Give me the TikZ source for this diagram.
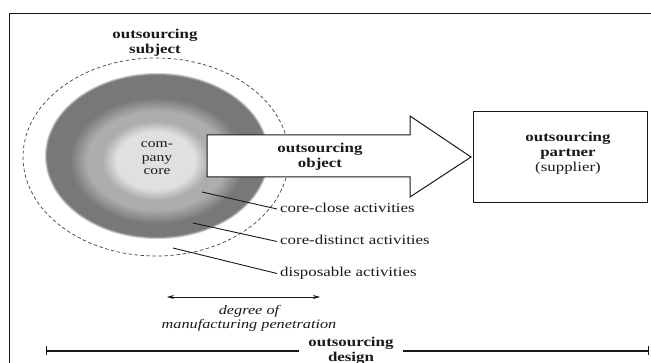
\documentclass[tikz,border=0pt]{standalone}
\usepackage{fontspec}
\setmainfont{Liberation Serif}[FakeStretch=1.25]
\usetikzlibrary{arrows.meta}
\definecolor{darkc}{gray}{0.47}
\definecolor{midc}{gray}{0.68}
\definecolor{lightc}{gray}{0.88}
\definecolor{inkc}{gray}{0.1}
\begin{document}
\begin{tikzpicture}[x=1pt,y=-1pt,
  bftext/.style={font=\fontsize{13.5}{15}\selectfont\bfseries, align=center, text=inkc},
  rmtext/.style={font=\fontsize{13.5}{15}\selectfont, text=inkc},
  ittext/.style={font=\fontsize{13}{14}\selectfont\itshape, align=center, text=inkc},
  labeltext/.style={rmtext, anchor=west, inner sep=3pt, text height=9pt, text depth=2.5pt},
  leader/.style={draw=inkc, line width=0.9pt},
  framelines/.style={draw=inkc, line width=1pt},
  dashring/.style={draw=black!75, line width=0.7pt, dash pattern=on 3.5pt off 2.5pt}]
\useasboundingbox (0,0) rectangle (651,363);
% frame
\draw[framelines] (9,363) -- (9,14) -- (651,14);
% shaded ellipses
\fill[darkc!40!white] (157,156) ellipse [x radius=112pt, y radius=83pt];
\fill[darkc!75!white] (157,156) ellipse [x radius=111pt, y radius=82pt];
\fill[darkc] (157,156) ellipse [x radius=110pt, y radius=81pt];
\foreach \i in {0,...,12} {
  \pgfmathsetmacro\rx{88-1.5*\i}
  \pgfmathsetmacro\ry{64-1.2*\i}
  \pgfmathtruncatemacro\c{100*\i/12}
  \fill[midc!\c!darkc] (157,161) ellipse [x radius=\rx pt, y radius=\ry pt];
}
\foreach \i in {0,...,12} {
  \pgfmathsetmacro\rx{54-1.2*\i}
  \pgfmathsetmacro\ry{40-0.9*\i}
  \pgfmathtruncatemacro\c{100*\i/12}
  \fill[lightc!\c!midc] (156,161) ellipse [x radius=\rx pt, y radius=\ry pt];
}
% dashed outer ring
\draw[dashring] (156,157) ellipse [x radius=133pt, y radius=99pt];
% labels and leaders
\node[labeltext] (cc) at (277,209) {core-close activities};
\node[labeltext] (cd) at (277,241.5) {core-distinct activities};
\node[labeltext] (da) at (277,273.5) {disposable activities};
\coordinate (p1) at (202,192);
\coordinate (p2) at (193,223);
\coordinate (p3) at (173,248);
\draw[leader] (p1) -- (cc.west);
\draw[leader] (p2) -- (cd.west);
\draw[leader] (p3) -- (da.west);
% company core text
\node[rmtext, font=\fontsize{12.5}{13.5}\selectfont, align=center] (core) at (157,158.5) {com-\\pany\\core};
% subject
\node[bftext] (subj) at (155,42.5) {outsourcing\\subject};
% big arrow
\draw[draw=inkc, line width=1pt, fill=white] (207,135) -- (410,135) -- (410,116) -- (471,157) -- (410,197) -- (410,177) -- (207,177) -- cycle;
\node[bftext] (obj) at (320,156.5) {outsourcing\\object};
% partner box
\node[draw=inkc, line width=0.9pt, minimum width=174pt, minimum height=91pt, inner sep=0pt] (partner) at (560,156.5) {};
\node[bftext] (ptext) at (568,153.5) {outsourcing\\partner\\{\mdseries (supplier)}};
% degree arrow
\coordinate (d1) at (167,297);
\coordinate (d2) at (320,297);
\draw[draw=inkc, line width=0.6pt, {Stealth[length=7pt,width=4pt]}-{Stealth[length=7pt,width=4pt]}] (d1) -- (d2);
\node[ittext] (deg) at (249,318) {degree of\\manufacturing penetration};
% outsourcing design
\node[bftext, inner xsep=9pt] (design) at (351,350.5) {outsourcing\\design};
\coordinate (b1) at (46,351);
\coordinate (b2) at (649,351);
\draw[draw=inkc, line width=1.3pt, {Bar[width=9pt]}-] (b1) -- (b1 -| design.west);
\draw[draw=inkc, line width=1.3pt, -{Bar[width=9pt]}] (b2 -| design.east) -- (b2);
\end{tikzpicture}
\end{document}
